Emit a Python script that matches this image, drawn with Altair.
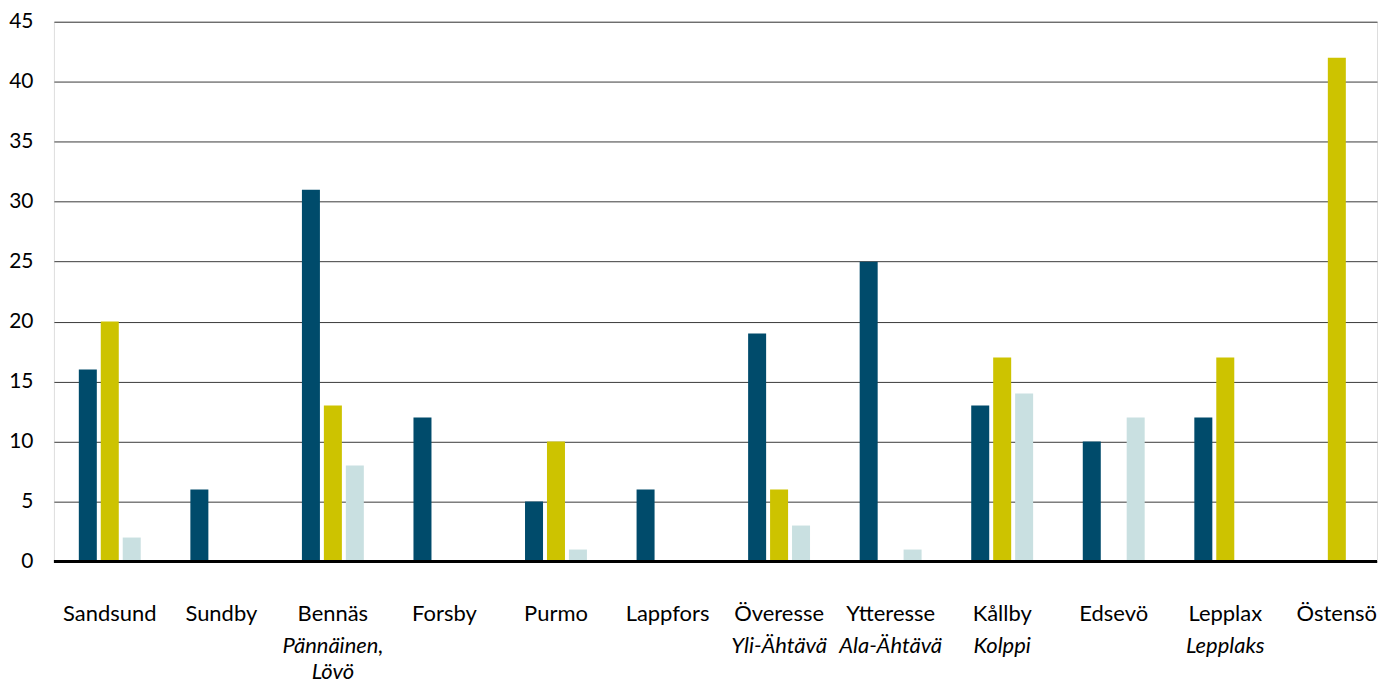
import altair as alt
import pandas as pd

categories = ["Sandsund", "Sundby", "Bennäs", "Forsby", "Purmo", "Lappfors",
              "Överesse", "Ytteresse", "Kållby", "Edsevö", "Lepplax", "Östensö"]
finnish_1 = ["", "", "Pännäinen,", "", "", "", "Yli-Ähtävä", "Ala-Ähtävä",
             "Kolppi", "", "Lepplaks", ""]
finnish_2 = ["", "", "Lövö", "", "", "", "", "", "", "", "", ""]
series_names = ["Serie 1", "Serie 2", "Serie 3"]
serie_1 = [16, 6, 31, 12, 5, 6, 19, 25, 13, 10, 12, 0]
serie_2 = [20, 0, 13, 0, 10, 0, 6, 0, 17, 0, 17, 42]
serie_3 = [2, 0, 8, 0, 1, 0, 3, 1, 14, 12, 0, 0]
colors = ["#004b6b", "#cdc300", "#c9e0e1"]
y_ticks = [0, 5, 10, 15, 20, 25, 30, 35, 40, 45]

rows = []
for i, c in enumerate(categories):
    for s, vals in zip(series_names, [serie_1, serie_2, serie_3]):
        rows.append({"kategori": c, "serie": s, "varde": vals[i]})
df = pd.DataFrame(rows)
labels_df = pd.DataFrame({"kategori": categories, "fin1": finnish_1, "fin2": finnish_2})

W = 1326
H = 541
FONT = "Lato"

xscale = alt.Scale(domain=categories, paddingInner=0.445, paddingOuter=0.153, align=0.73)
x_enc = alt.X("kategori:N", scale=xscale, axis=None, sort=categories)

bars = alt.Chart(df).mark_bar().encode(
    x=x_enc,
    xOffset=alt.XOffset("serie:N", sort=series_names,
                        scale=alt.Scale(domain=series_names, paddingInner=0.18, paddingOuter=0)),
    y=alt.Y("varde:Q", scale=alt.Scale(domain=[0, 45], nice=False),
            axis=alt.Axis(values=y_ticks, title=None, domain=False, ticks=False,
                          labelPadding=21, minExtent=45, maxExtent=45,
                          labelFont=FONT, labelFontSize=21, labelColor="#000000",
                          grid=True, gridColor="#3a3a3a", gridWidth=1)),
    color=alt.Color("serie:N", scale=alt.Scale(domain=series_names, range=colors), legend=None),
)

baseline = alt.Chart(pd.DataFrame({"y": [0]})).mark_rule(color="#000000", strokeWidth=3).encode(
    y="y:Q"
)

name_text = alt.Chart(labels_df).mark_text(
    font=FONT, fontSize=22, baseline="alphabetic", align="center", color="#000000"
).encode(x=x_enc, y=alt.value(H + 60), text="kategori:N")

fin1_text = alt.Chart(labels_df).mark_text(
    font=FONT, fontSize=22, fontStyle="italic", baseline="alphabetic", align="center", color="#000000"
).encode(x=x_enc, y=alt.value(H + 92), text="fin1:N")

fin2_text = alt.Chart(labels_df).mark_text(
    font=FONT, fontSize=22, fontStyle="italic", baseline="alphabetic", align="center", color="#000000"
).encode(x=x_enc, y=alt.value(H + 118), text="fin2:N")

chart = alt.layer(bars, baseline, name_text, fin1_text, fin2_text).properties(
    width=W, height=H, padding={"left": 0, "top": 2, "right": 0, "bottom": 0}
).configure_view(stroke=None).configure(background="#ffffff")

chart.save("out.html", embed_options={"renderer": "svg", "actions": False})
